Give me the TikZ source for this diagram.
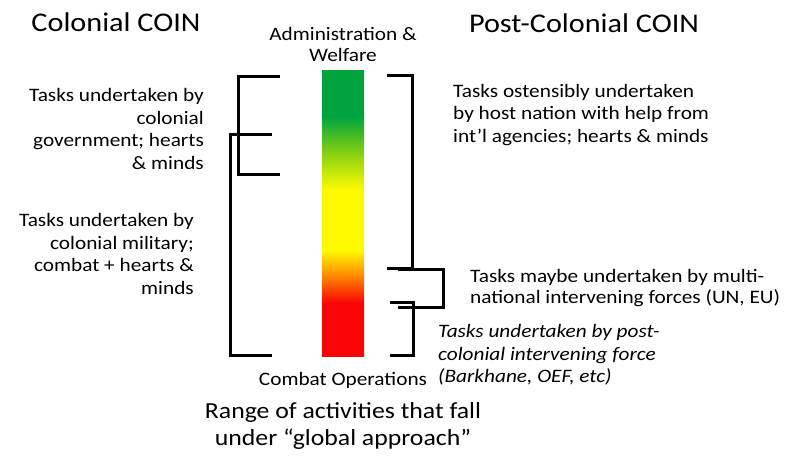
\documentclass[tikz,border=0pt]{standalone}
\usepackage{fontspec}
\setmainfont[FakeStretch=1.12]{Carlito}
\usetikzlibrary{positioning}
\definecolor{barred}{RGB}{250,5,5}
\definecolor{barorange}{RGB}{255,140,0}
\definecolor{baryellow}{RGB}{255,250,0}
\definecolor{barlime}{RGB}{125,205,20}
\definecolor{bargreen}{RGB}{0,164,62}
% bar runs from 25bp (bottom) to 75bp (top)
\pgfdeclareverticalshading{coinbar}{100bp}{color(0bp)=(barred); color(34.3bp)=(barred);
    color(39.2bp)=(barorange); color(43.5bp)=(baryellow); color(54bp)=(baryellow);
    color(61bp)=(barlime); color(66.8bp)=(bargreen); color(100bp)=(bargreen)}

\begin{document}
\begin{tikzpicture}[x=1pt,y=-1pt,
    heading/.style={inner sep=0pt,font=\fontsize{27}{30}\selectfont},
    label/.style={inner sep=0pt,align=center,font=\fontsize{19}{21}\selectfont},
    task/.style={inner sep=0pt,font=\fontsize{19}{22.6}\selectfont},
    bracket/.style={line width=3pt}
]
    \useasboundingbox (0,0) rectangle (789,461);
    \node[shade,shading=coinbar,minimum width=42pt,minimum height=286pt,inner sep=0pt]
        (bar) at (343,213) {};
    \node[label,above=8pt of bar] (admin) {Administration \&\\Welfare};
    \node[label,below=16pt of bar] (combat) {Combat Operations};
    \node[label,below=13pt of combat,font=\fontsize{23}{27}\selectfont] (range)
        {Range of activities that fall\\under “global approach”};

    \node[heading] (colonial) at (116,22) {Colonial COIN};
    \node[heading] (postcolonial) at (584,23) {Post-Colonial COIN};

    \node[task,align=right,anchor=east] (govt) at (204,129)
        {Tasks undertaken by\\colonial\\government; hearts\\\& minds};
    \node[task,align=right,anchor=east] (military) at (194,254)
        {Tasks undertaken by\\colonial military;\\combat + hearts \&\\minds};
    \node[task,align=left,anchor=west] (host) at (453,115)
        {Tasks ostensibly undertaken\\by host nation with help from\\int’l agencies; hearts \& minds};
    \node[task,align=left,anchor=west,font=\fontsize{19}{21.5}\selectfont] (multi) at (470,288)
        {Tasks maybe undertaken by multi-\\national intervening forces (UN, EU)};
    \node[task,align=left,anchor=west,font=\fontsize{19}{22.6}\selectfont\itshape] (force) at (438,355)
        {Tasks undertaken by post-\\colonial intervening force\\(Barkhane, OEF, etc)};

    % bracket ends
    \coordinate (govtTop) at (280,76);
    \coordinate (govtBot) at (280,174);
    \coordinate (milTop) at (272,134);
    \coordinate (milBot) at (272,355);
    \coordinate (hostTop) at (387,75);
    \coordinate (hostBot) at (387,268);
    \coordinate (multiTop) at (398,269);
    \coordinate (multiBot) at (398,307);
    \coordinate (forceTop) at (390,302);
    \coordinate (forceBot) at (390,355);

    \draw[bracket] (govtTop) -- (238,76) |- (govtBot);
    \draw[bracket] (milTop) -- (230,134) |- (milBot);
    \draw[bracket] (hostTop) -- (412,75) |- (hostBot);
    \draw[bracket] (multiTop) -- (443,269) |- (multiBot);
    \draw[bracket] (forceTop) -- (413,302) |- (forceBot);
\end{tikzpicture}
\end{document}
